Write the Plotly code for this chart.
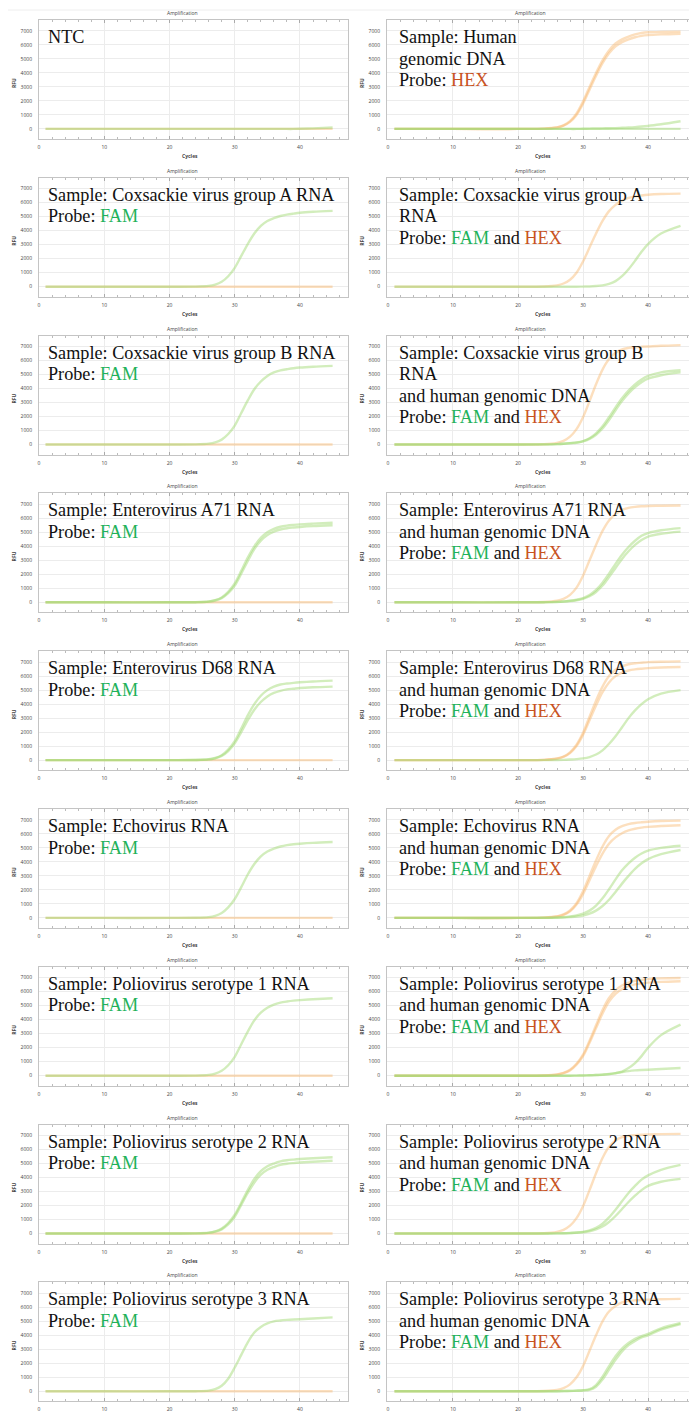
import plotly.graph_objects as go

# ---------------- data ----------------
cycles = [1, 10, 20, 24, 26, 27, 28, 29, 30, 31, 32, 33, 34, 35, 36, 37, 38, 39, 40, 42, 45]
x_ticks = [0, 10, 20, 30, 40]
y_ticks = [0, 1000, 2000, 3000, 4000, 5000, 6000, 7000]

flat = [0, 0, 0, 0, 0, 0, 0, 0, 0, 0, 0, 0, 0, 0, 0, 0, 0, 0, 0, 0, 0]

# row 1
ntc_fam = [0, 0, 0, 0, 0, 0, 0, 0, 0, 0, 0, 0, 0, 0, 0, 0, 0, 0, 10, 40, 100]
hg_hex_a = [0, 0, 0, 20, 100, 230, 500, 1000, 1800, 2800, 3800, 4700, 5400, 5900, 6200, 6400, 6550, 6650, 6700, 6750, 6800]
hg_hex_b = [0, 0, 0, 20, 110, 250, 550, 1100, 1950, 3000, 4000, 4900, 5600, 6100, 6400, 6600, 6750, 6850, 6900, 6920, 6950]
hg_fam = [0, 0, 0, 0, 0, 0, 0, 0, 10, 20, 30, 40, 50, 60, 80, 100, 130, 170, 220, 330, 550]
# row 2
cva_fam = [0, 0, 0, 10, 60, 150, 350, 750, 1350, 2200, 3050, 3800, 4350, 4700, 4900, 5050, 5150, 5220, 5280, 5350, 5420]
cva_h_hex = [0, 0, 0, 20, 100, 230, 500, 1000, 1800, 2800, 3800, 4700, 5400, 5850, 6150, 6350, 6450, 6520, 6570, 6620, 6650]
cva_h_fam = [0, 0, 0, 0, 0, 0, 0, 0, 10, 20, 50, 100, 200, 400, 750, 1250, 1850, 2500, 3050, 3800, 4350]
# row 3
cvb_fam = [0, 0, 0, 10, 60, 150, 350, 750, 1350, 2250, 3150, 3950, 4500, 4900, 5150, 5300, 5380, 5450, 5500, 5560, 5620]
cvb_h_hex = [0, 0, 0, 20, 120, 260, 560, 1100, 1950, 3100, 4300, 5350, 6100, 6550, 6800, 6900, 6950, 6980, 7000, 7050, 7100]
cvb_h_fam_a = [0, 0, 0, 10, 30, 60, 100, 150, 250, 450, 800, 1300, 1950, 2650, 3300, 3850, 4300, 4650, 4900, 5150, 5300]
cvb_h_fam_b = [0, 0, 0, 10, 30, 55, 90, 130, 220, 400, 700, 1150, 1750, 2450, 3100, 3650, 4100, 4450, 4700, 4950, 5150]
# row 4
ev71_fam_a = [0, 0, 0, 10, 60, 150, 350, 750, 1350, 2250, 3200, 4000, 4600, 5000, 5250, 5400, 5480, 5530, 5570, 5620, 5680]
ev71_fam_b = [0, 0, 0, 10, 50, 130, 300, 650, 1200, 2050, 2950, 3800, 4400, 4800, 5050, 5200, 5290, 5340, 5380, 5440, 5500]
ev71_h_hex = [0, 0, 0, 20, 110, 250, 530, 1050, 1900, 3000, 4100, 5100, 5850, 6300, 6600, 6750, 6820, 6860, 6880, 6900, 6920]
ev71_h_fam_a = [0, 0, 0, 10, 30, 60, 110, 180, 300, 520, 880, 1400, 2050, 2750, 3400, 3950, 4400, 4750, 4950, 5150, 5300]
ev71_h_fam_b = [0, 0, 0, 10, 25, 50, 90, 150, 250, 430, 740, 1200, 1800, 2450, 3100, 3650, 4100, 4450, 4700, 4900, 5050]
# row 5
d68_fam_a = [0, 0, 0, 10, 60, 150, 350, 750, 1350, 2250, 3200, 4000, 4600, 5000, 5250, 5400, 5470, 5520, 5560, 5620, 5680]
d68_fam_b = [0, 0, 0, 10, 50, 130, 300, 650, 1200, 2000, 2850, 3600, 4150, 4550, 4800, 4950, 5050, 5100, 5150, 5200, 5250]
d68_h_hex_a = [0, 0, 0, 20, 120, 260, 560, 1100, 1950, 3100, 4250, 5250, 6000, 6450, 6700, 6850, 6920, 6960, 7000, 7030, 7050]
d68_h_hex_b = [0, 0, 0, 20, 100, 230, 500, 1000, 1800, 2850, 3900, 4850, 5550, 6000, 6250, 6400, 6480, 6530, 6570, 6620, 6650]
d68_h_fam = [0, 0, 0, 0, 10, 20, 40, 70, 120, 220, 400, 700, 1150, 1700, 2350, 3000, 3550, 4000, 4350, 4750, 5000]
# row 6
echo_fam = [0, 0, 0, 10, 60, 150, 350, 750, 1350, 2200, 3100, 3850, 4400, 4750, 4950, 5100, 5200, 5260, 5300, 5360, 5420]
echo_h_hex_a = [0, 0, 0, 20, 110, 250, 530, 1050, 1900, 3000, 4100, 5100, 5850, 6300, 6550, 6700, 6780, 6830, 6870, 6920, 6950]
echo_h_hex_b = [0, 0, 0, 20, 100, 220, 470, 950, 1700, 2700, 3700, 4600, 5300, 5750, 6050, 6250, 6370, 6450, 6500, 6570, 6620]
echo_h_fam_a = [0, 0, 0, 10, 30, 60, 110, 180, 300, 520, 880, 1400, 2050, 2750, 3400, 3900, 4300, 4600, 4800, 5000, 5150]
echo_h_fam_b = [0, 0, 0, 0, 15, 30, 60, 100, 170, 300, 520, 850, 1300, 1850, 2450, 3000, 3500, 3900, 4200, 4550, 4850]
# row 7
pv1_fam = [0, 0, 0, 10, 60, 150, 350, 750, 1350, 2250, 3150, 3950, 4500, 4850, 5080, 5220, 5300, 5360, 5400, 5460, 5530]
pv1_h_hex_a = [0, 0, 0, 20, 90, 200, 420, 850, 1500, 2500, 3600, 4700, 5550, 6100, 6450, 6650, 6780, 6850, 6900, 6950, 6980]
pv1_h_hex_b = [0, 0, 0, 20, 80, 180, 380, 780, 1400, 2350, 3400, 4450, 5300, 5850, 6200, 6400, 6520, 6600, 6650, 6700, 6750]
pv1_h_fam_a = [0, 0, 0, 0, 0, 0, 0, 10, 20, 30, 50, 80, 120, 190, 300, 550, 900, 1400, 2000, 2900, 3650]
pv1_h_fam_b = [0, 0, 0, 0, 0, 0, 0, 10, 20, 30, 50, 70, 110, 180, 260, 330, 380, 410, 430, 480, 550]
# row 8
pv2_fam_a = [0, 0, 0, 10, 60, 150, 350, 750, 1350, 2200, 3100, 3900, 4450, 4800, 5000, 5150, 5230, 5280, 5320, 5380, 5450]
pv2_fam_b = [0, 0, 0, 10, 50, 130, 300, 650, 1200, 2050, 2900, 3650, 4200, 4550, 4750, 4900, 4980, 5030, 5070, 5130, 5200]
pv2_h_hex = [0, 0, 0, 20, 120, 260, 560, 1100, 1950, 3100, 4300, 5400, 6200, 6650, 6880, 6980, 7030, 7060, 7080, 7100, 7120]
pv2_h_fam_a = [0, 0, 0, 0, 10, 20, 40, 70, 120, 220, 400, 700, 1150, 1700, 2300, 2900, 3400, 3850, 4150, 4550, 4900]
pv2_h_fam_b = [0, 0, 0, 0, 10, 15, 30, 50, 90, 160, 290, 500, 820, 1250, 1750, 2250, 2700, 3100, 3400, 3700, 3900]
# row 9
pv3_fam = [0, 0, 0, 10, 50, 150, 400, 900, 1700, 2600, 3500, 4200, 4600, 4850, 5000, 5060, 5100, 5130, 5150, 5200, 5280]
pv3_h_hex = [0, 0, 0, 20, 100, 230, 500, 1000, 1800, 2900, 4000, 5000, 5700, 6100, 6350, 6450, 6500, 6530, 6550, 6580, 6600]
pv3_h_fam_a = [0, 0, 0, 0, 10, 20, 30, 50, 80, 150, 450, 1050, 1800, 2500, 3050, 3450, 3750, 3950, 4100, 4500, 4880]
pv3_h_fam_b = [0, 0, 0, 0, 10, 15, 25, 40, 60, 110, 330, 850, 1550, 2250, 2850, 3300, 3600, 3850, 4000, 4400, 4800]

FAM = "<span style='color:#1fb25a'>FAM</span>"
HEX = "<span style='color:#c8531f'>HEX</span>"
PROBE_FAM = "Probe: " + FAM
PROBE_BOTH = "Probe: " + FAM + " and " + HEX
HUMAN = "and human genomic DNA"

labels_left = [
    ["NTC"],
    ["Sample: Coxsackie virus group A RNA", PROBE_FAM],
    ["Sample: Coxsackie virus group B RNA", PROBE_FAM],
    ["Sample: Enterovirus A71 RNA", PROBE_FAM],
    ["Sample: Enterovirus D68 RNA", PROBE_FAM],
    ["Sample: Echovirus RNA", PROBE_FAM],
    ["Sample: Poliovirus serotype 1 RNA", PROBE_FAM],
    ["Sample: Poliovirus serotype 2 RNA", PROBE_FAM],
    ["Sample: Poliovirus serotype 3 RNA", PROBE_FAM],
]
labels_right = [
    ["Sample: Human", "genomic DNA", "Probe: " + HEX],
    ["Sample: Coxsackie virus group A", "RNA", PROBE_BOTH],
    ["Sample: Coxsackie virus group B", "RNA", HUMAN, PROBE_BOTH],
    ["Sample: Enterovirus A71 RNA", HUMAN, PROBE_BOTH],
    ["Sample: Enterovirus D68 RNA", HUMAN, PROBE_BOTH],
    ["Sample: Echovirus RNA", HUMAN, PROBE_BOTH],
    ["Sample: Poliovirus serotype 1 RNA", HUMAN, PROBE_BOTH],
    ["Sample: Poliovirus serotype 2 RNA", HUMAN, PROBE_BOTH],
    ["Sample: Poliovirus serotype 3 RNA", HUMAN, PROBE_BOTH],
]

# series per panel: (hex curves, fam curves)
panels_left = [
    ([flat], [ntc_fam]),
    ([flat], [cva_fam]),
    ([flat], [cvb_fam]),
    ([flat], [ev71_fam_a, ev71_fam_b]),
    ([flat], [d68_fam_a, d68_fam_b]),
    ([flat], [echo_fam]),
    ([flat], [pv1_fam]),
    ([flat], [pv2_fam_a, pv2_fam_b]),
    ([flat], [pv3_fam]),
]
panels_right = [
    ([hg_hex_a, hg_hex_b], [flat, hg_fam]),
    ([cva_h_hex], [cva_h_fam]),
    ([cvb_h_hex], [cvb_h_fam_a, cvb_h_fam_b]),
    ([ev71_h_hex], [ev71_h_fam_a, ev71_h_fam_b]),
    ([d68_h_hex_a, d68_h_hex_b], [d68_h_fam]),
    ([echo_h_hex_a, echo_h_hex_b], [echo_h_fam_a, echo_h_fam_b]),
    ([pv1_h_hex_a, pv1_h_hex_b], [pv1_h_fam_a, pv1_h_fam_b]),
    ([pv2_h_hex], [pv2_h_fam_a, pv2_h_fam_b]),
    ([pv3_h_hex], [pv3_h_fam_a, pv3_h_fam_b]),
]

# ---------------- layout ----------------
W, H = 689, 1411
ROW0, PITCH, PH = 20.0, 157.8, 119.0
LEFT_X = (39, 348)
RIGHT_X = (387, 689)
LEFT_RANGE = [0, 47.36]
RIGHT_RANGE = [-0.15, 46.3]
Y_RANGE = [-720, 7780]
LINE_PITCH = 21.5

HEX_LINE = "rgba(248,185,110,0.45)"
FAM_LINE = "rgba(160,218,115,0.48)"
GRID = "#ececec"
BORDER = "#c4c4c4"
TICKFONT = dict(family="Open Sans", size=5, color="#444")
SMALLFONT = dict(family="Open Sans", size=5, color="#444")

fig = go.Figure()
annotations = []
n = 0
for r in range(9):
    top = ROW0 + r * PITCH
    bot = top + PH
    for c in range(2):
        n += 1
        xd = LEFT_X if c == 0 else RIGHT_X
        hexs, fams = (panels_left if c == 0 else panels_right)[r]
        xs = "x" if n == 1 else f"x{n}"
        ys = "y" if n == 1 else f"y{n}"
        for ser in hexs:
            fig.add_trace(go.Scatter(x=cycles, y=ser, mode="lines", xaxis=xs, yaxis=ys,
                                     line=dict(color=HEX_LINE, width=2.4, shape="spline", smoothing=0.9),
                                     showlegend=False, hoverinfo="skip"))
        for ser in fams:
            fig.add_trace(go.Scatter(x=cycles, y=ser, mode="lines", xaxis=xs, yaxis=ys,
                                     line=dict(color=FAM_LINE, width=2.4, shape="spline", smoothing=0.9),
                                     showlegend=False, hoverinfo="skip"))
        xkey = "xaxis" if n == 1 else f"xaxis{n}"
        ykey = "yaxis" if n == 1 else f"yaxis{n}"
        fig.layout[xkey] = dict(
            domain=[xd[0] / W, xd[1] / W], anchor=ys, automargin=False,
            range=LEFT_RANGE if c == 0 else RIGHT_RANGE,
            tickvals=x_ticks, showgrid=True, gridcolor=GRID, gridwidth=1,
            showline=True, linecolor=BORDER, linewidth=1, mirror="ticks",
            ticks="inside", ticklen=3, tickcolor="#aaa",
            minor=dict(dtick=2, ticks="inside", ticklen=2, tickcolor="#bbb", showgrid=False),
            tickfont=TICKFONT, zeroline=False, ticklabelstandoff=3, fixedrange=True)
        fig.layout[ykey] = dict(
            domain=[1 - bot / H, 1 - top / H], anchor=xs, automargin=False,
            range=Y_RANGE, tickvals=y_ticks, showgrid=True, gridcolor=GRID, gridwidth=1,
            showline=True, linecolor=BORDER, linewidth=1, mirror=(c == 0),
            ticks="", tickfont=TICKFONT, zeroline=False, ticklabelstandoff=5, fixedrange=True)

        tx = 182 if c == 0 else 530
        annotations.append(dict(text="Amplification", x=tx / W, y=1 - (top - 7) / H, xref="paper", yref="paper",
                                showarrow=False, font=SMALLFONT, xanchor="center", yanchor="middle"))
        if r < 8:  # the last row's axis title falls below the picture
            cx = 190 if c == 0 else 543
            annotations.append(dict(text="<b>Cycles</b>", x=cx / W, y=1 - (top + 136) / H, xref="paper", yref="paper",
                                    showarrow=False, font=SMALLFONT, xanchor="center", yanchor="middle"))
        rx = 14 if c == 0 else 362
        annotations.append(dict(text="<b>RFU</b>", x=rx / W, y=1 - (top + 63) / H, xref="paper", yref="paper",
                                showarrow=False, textangle=-90, font=SMALLFONT, xanchor="center", yanchor="middle"))
        lx = 46 if c == 0 else 397
        lines = (labels_left if c == 0 else labels_right)[r]
        for k, ln in enumerate(lines):
            cy = top + 17 + k * LINE_PITCH
            annotations.append(dict(text=ln, x=lx / W, y=1 - cy / H, xref="paper", yref="paper",
                                    showarrow=False, align="left", xanchor="left", yanchor="middle",
                                    font=dict(family="Liberation Serif", size=18.2, color="#111")))

fig.update_layout(
    width=W, height=H, margin=dict(l=0, r=0, t=0, b=0, autoexpand=False),
    paper_bgcolor="white", plot_bgcolor="white",
    annotations=annotations, showlegend=False,
    shapes=[dict(type="line", xref="paper", yref="paper", x0=8 / W, x1=1, y0=1 - 10 / H, y1=1 - 10 / H,
                 line=dict(color="#eeeeee", width=1))],
)

fig.write_html("out.html", config={"displayModeBar": False, "staticPlot": True},
               post_script="document.body.style.margin='0';document.body.style.overflow='hidden';")
